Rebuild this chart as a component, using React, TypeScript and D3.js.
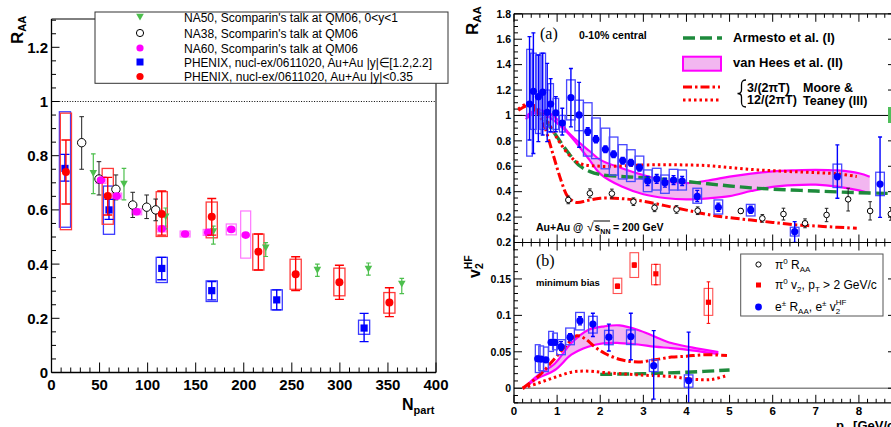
import React from "react";
import * as d3 from "d3";

// ================= LEFT PANEL: R_AA vs N_part =================
const leftXTicks = [0, 50, 100, 150, 200, 250, 300, 350, 400];
const leftYTicks = [0, 0.2, 0.4, 0.6, 0.8, 1, 1.2];
const leftYTickLabels = ["0", "0.2", "0.4", "0.6", "0.8", "1", "1.2"];

const na50N = [43.5, 75.4, 118.8, 168.4, 222.9, 276.6, 329.7, 364.4];
const na50R = [0.735, 0.696, 0.575, 0.52, 0.46, 0.378, 0.382, 0.327];
const na50Lo = [0.66, 0.637, 0.53, 0.474, 0.428, 0.355, 0.359, 0.291];
const na50Hi = [0.807, 0.753, 0.607, 0.54, 0.479, 0.4, 0.404, 0.347];

const na38N = [31.4, 49.4, 67, 84.5, 99, 108.4];
const na38R = [0.848, 0.714, 0.676, 0.618, 0.61, 0.6];
const na38Lo = [0.75, 0.655, 0.637, 0.572, 0.568, 0.56];
const na38Hi = [0.944, 0.778, 0.729, 0.665, 0.655, 0.64];

const na60N = [51.5, 67.8, 88.6, 114.7, 139, 163, 187, 202];
const na60R = [0.71, 0.651, 0.593, 0.53, 0.511, 0.517, 0.528, 0.507];
const na60SysLo = [0.698, 0.64, 0.582, 0.519, 0.5, 0.506, 0.508, 0.422];
const na60SysHi = [0.722, 0.662, 0.604, 0.541, 0.522, 0.528, 0.548, 0.596];

const fwdN = [14, 59.8, 114.7, 166.7, 234.3, 325.2];
const fwdR = [0.753, 0.6, 0.384, 0.302, 0.268, 0.164];
const fwdLo = [0.706, 0.565, 0.342, 0.268, 0.231, 0.114];
const fwdHi = [0.805, 0.639, 0.425, 0.336, 0.305, 0.218];
const fwdSysLo = [0.536, 0.51, 0.332, 0.262, 0.231, 0.141];
const fwdSysHi = [0.962, 0.688, 0.425, 0.338, 0.305, 0.193];

const midN = [15, 58.5, 114.7, 166.7, 215.2, 254, 299.5, 351.5];
const midR = [0.74, 0.651, 0.585, 0.575, 0.446, 0.363, 0.333, 0.258];
const midLo = [0.622, 0.581, 0.507, 0.507, 0.378, 0.302, 0.27, 0.206];
const midHi = [0.858, 0.72, 0.67, 0.642, 0.511, 0.427, 0.396, 0.313];
const midSysLo = [0.527, 0.547, 0.502, 0.497, 0.378, 0.307, 0.283, 0.219];
const midSysHi = [0.957, 0.753, 0.667, 0.629, 0.511, 0.418, 0.385, 0.295];

const leftLegend = [
  "NA50, Scomparin's talk at QM06, 0<y<1",
  "NA38, Scomparin's talk at QM06",
  "NA60, Scomparin's talk at QM06",
  "PHENIX, nucl-ex/0611020, Au+Au |y|\u2208[1.2,2.2]",
  "PHENIX, nucl-ex/0611020, Au+Au |y|<0.35",
];
const leftLegendWidths = [214, 174, 174, 248, 229];

// ================= RIGHT PANEL (a): R_AA vs pT =================
const rightXTicks = [0, 1, 2, 3, 4, 5, 6, 7, 8];
const aYTicks = [0.2, 0.4, 0.6, 0.8, 1, 1.2, 1.4, 1.6, 1.8];
const aYTickLabels = ["0.2", "0.4", "0.6", "0.8", "1", "1.2", "1.4", "1.6", "1.8"];
const bYTicks = [0, 0.05, 0.1, 0.15, 0.2];
const bYTickLabels = ["0", "0.05", "0.1", "0.15", "0.2"];

const eAPt = [0.36, 0.45, 0.565, 0.666, 0.77, 0.85, 0.97, 1.12, 1.32, 1.51, 1.71, 1.9, 2.12, 2.31, 2.52, 2.71, 2.91, 3.1, 3.31, 3.5, 3.7, 3.9, 4.25, 4.74, 5.49, 6.51, 7.5, 8.49];
const eAR = [1.09, 1.19, 1.148, 1.183, 1.025, 1.09, 1.02, 0.94, 1.14, 1.004, 0.873, 0.812, 0.734, 0.694, 0.644, 0.628, 0.589, 0.484, 0.5, 0.471, 0.491, 0.484, 0.363, 0.277, 0.256, 0.085, 0.518, 0.46];
const eALo = [0.807, 0.7, 0.794, 0.846, 0.794, 0.872, 0.872, 0.846, 0.91, 0.75, 0.843, 0.785, 0.708, 0.668, 0.618, 0.602, 0.562, 0.449, 0.465, 0.436, 0.456, 0.449, 0.323, 0.245, 0.23, 0.0, 0.348, 0.198];
const eAHi = [1.62, 1.65, 1.476, 1.49, 1.41, 1.29, 1.148, 1.057, 1.37, 1.26, 0.903, 0.84, 0.76, 0.72, 0.67, 0.654, 0.616, 0.519, 0.535, 0.506, 0.526, 0.519, 0.41, 0.31, 0.285, 0.164, 0.768, 0.83];
const eASysLo = [0.68, 0.89, 0.858, 0.89, 0.91, 0.87, 0.89, 0.87, 0.965, 0.88, 0.68, 0.66, 0.58, 0.53, 0.5, 0.48, 0.5, 0.4, 0.413, 0.387, 0.413, 0.413, 0.309, 0.224, 0.209, 0.051, 0.433, 0.369];
const eASysHi = [1.52, 1.49, 1.476, 1.49, 1.2, 1.25, 1.134, 1.0, 1.28, 1.12, 1.1, 0.98, 0.9, 0.83, 0.77, 0.73, 0.68, 0.571, 0.584, 0.531, 0.576, 0.571, 0.427, 0.335, 0.3, 0.12, 0.617, 0.553];

const piAPt = [1.26, 1.76, 2.27, 2.77, 3.26, 3.77, 4.26, 5.26, 5.76, 6.25, 6.75, 7.25, 7.75, 8.26, 8.74];
const piAR = [0.335, 0.387, 0.385, 0.321, 0.273, 0.26, 0.25, 0.248, 0.19, 0.224, 0.151, 0.217, 0.34, 0.248, 0.225];
const piALo = [0.305, 0.352, 0.35, 0.291, 0.243, 0.23, 0.22, 0.228, 0.16, 0.177, 0.116, 0.164, 0.248, 0.177, 0.175];
const piAHi = [0.365, 0.422, 0.42, 0.351, 0.303, 0.29, 0.28, 0.268, 0.22, 0.27, 0.186, 0.269, 0.427, 0.321, 0.275];

const armAPt = [0.45, 0.75, 1.0, 1.25, 1.5, 1.75, 2.0, 2.5, 3.0, 3.5, 4.0, 4.5, 5.0, 5.5, 6.0, 7.0, 8.0, 8.86];
const armAR = [1.07, 0.95, 0.83, 0.71, 0.61, 0.56, 0.535, 0.52, 0.51, 0.497, 0.48, 0.462, 0.445, 0.43, 0.42, 0.405, 0.392, 0.385];

const vhAPt = [0.27, 0.5, 0.75, 1.0, 1.25, 1.5, 1.75, 2.0, 2.5, 3.0, 3.5, 4.0, 4.5, 5.0, 5.5, 6.0, 6.5, 7.0, 7.5, 8.0, 8.25];
const vhAUp = [0.99, 1.04, 1.03, 0.97, 0.87, 0.79, 0.72, 0.65, 0.585, 0.53, 0.487, 0.468, 0.488, 0.518, 0.542, 0.56, 0.568, 0.572, 0.567, 0.545, 0.518];
const vhALo = [0.97, 1.02, 1.0, 0.94, 0.86, 0.76, 0.65, 0.54, 0.44, 0.38, 0.35, 0.34, 0.348, 0.365, 0.405, 0.438, 0.452, 0.455, 0.44, 0.41, 0.387];

const mt3APt = [0.1, 0.35, 0.55, 0.7, 0.9, 1.1, 1.25, 1.45, 1.7, 2.0, 2.5, 3.0, 3.5, 4.0, 4.5, 5.0, 5.5, 6.0, 6.5, 7.0, 7.5, 7.95];
const mt3AR = [1.04, 1.08, 1.02, 0.92, 0.7, 0.48, 0.36, 0.315, 0.33, 0.348, 0.345, 0.325, 0.29, 0.255, 0.22, 0.195, 0.177, 0.158, 0.14, 0.13, 0.12, 0.112];

const mt12APt = [0.1, 0.3, 0.5, 0.75, 1.0, 1.25, 1.5, 2.0, 2.5, 3.0, 3.5, 4.0, 4.5, 5.0, 5.5, 6.0, 6.5, 7.0, 7.5, 7.95];
const mt12AR = [1.05, 1.09, 1.07, 0.97, 0.82, 0.7, 0.625, 0.6, 0.603, 0.61, 0.612, 0.61, 0.605, 0.59, 0.575, 0.565, 0.557, 0.55, 0.54, 0.52];

// ================= RIGHT PANEL (b): v2 vs pT =================
const eBPt = [0.55, 0.63, 0.74, 0.86, 0.95, 1.09, 1.3, 1.53, 1.83, 2.2, 2.71, 3.24, 4.05];
const eBV = [0.0404, 0.04, 0.039, 0.063, 0.063, 0.057, 0.07, 0.0927, 0.088, 0.07, 0.071, 0.031, 0.0105];
const eBLo = [0.037, 0.037, 0.036, 0.06, 0.06, 0.052, 0.065, 0.087, 0.071, 0.051, 0.039, -0.015, -0.03];
const eBHi = [0.044, 0.043, 0.042, 0.066, 0.066, 0.064, 0.075, 0.098, 0.103, 0.088, 0.103, 0.079, 0.077];
const eBSysLo = [0.0215, 0.024, 0.0229, 0.0505, 0.0527, 0.046, 0.0597, 0.08, 0.0757, 0.0597, 0.06, 0.0229, 0.0014];
const eBSysHi = [0.0597, 0.058, 0.0565, 0.078, 0.0757, 0.0666, 0.0826, 0.104, 0.0987, 0.0794, 0.08, 0.039, 0.0183];

const piBPt = [2.4, 2.79, 3.29, 4.51];
const piBV = [0.14, 0.169, 0.157, 0.118];
const piBLo = [0.137, 0.166, 0.142, 0.089];
const piBHi = [0.143, 0.172, 0.17, 0.146];
const piBSysLo = [0.13, 0.152, 0.142, 0.1];
const piBSysHi = [0.151, 0.186, 0.17, 0.137];

const vhBPt = [0.22, 0.56, 0.95, 1.33, 1.72, 2.1, 2.45, 2.88, 3.26, 3.65, 4.12, 4.74];
const vhBUp = [0.0, 0.018, 0.034, 0.062, 0.08, 0.085, 0.0863, 0.08, 0.071, 0.062, 0.056, 0.0495];
const vhBLo = [0.0, 0.0138, 0.025, 0.046, 0.057, 0.062, 0.062, 0.06, 0.057, 0.055, 0.052, 0.047];

const mt3BPt = [0.2, 0.56, 0.95, 1.2, 1.45, 1.65, 1.85, 2.1, 2.49, 2.88, 3.26, 3.65, 4.0, 4.43, 4.94];
const mt3BV = [0.0, 0.016, 0.041, 0.058, 0.072, 0.068, 0.058, 0.048, 0.039, 0.036, 0.039, 0.0427, 0.044, 0.046, 0.045];

const mt12BPt = [0.2, 0.56, 0.95, 1.33, 1.64, 2.1, 2.88, 3.65, 4.12, 4.58, 4.93];
const mt12BV = [0.0, 0.007, 0.015, 0.022, 0.0236, 0.0215, 0.0183, 0.016, 0.0124, 0.012, 0.0174];

const armBPt = [2.0, 3.0, 4.0, 5.0];
const armBV = [0.019, 0.02, 0.022, 0.025];

// ================= styling =================
const FONT = "'Liberation Sans', Arial, Helvetica, sans-serif";
const SERIF = "'Liberation Serif', 'Times New Roman', serif";
const RED = "#ff0000";
const BLUE = "#0000ff";
const MAG = "#ff00ff";
const NA50G = "#4dbf4d";
const DKGREEN = "#1e8a3c";

export default function App() {
  const xL = d3.scaleLinear().domain([0, 400]).range([51.5, 436]);
  const yL = d3.scaleLinear().domain([0, 1.3]).range([372.5, 20.2]);
  const xR = d3.scaleLinear().domain([0, 8.86]).range([514, 896]);
  const yA = d3.scaleLinear().domain([0, 1.8]).range([242.5, 13.8]);
  const yB = d3.scaleLinear().domain([-0.02, 0.2]).range([402.8, 242.5]);

  const boxN = 5.8;

  const vbar = (key: string, x: number, y0: number, y1: number, cap: number, color: string, sw = 1.2) => (
    <g key={key} stroke={color} strokeWidth={sw}>
      <line x1={x} x2={x} y1={y0} y2={y1} />
      {cap > 0 && <line x1={x - cap} x2={x + cap} y1={y0} y2={y0} />}
      {cap > 0 && <line x1={x - cap} x2={x + cap} y1={y1} y2={y1} />}
    </g>
  );

  const box = (key: string, x0: number, x1: number, y0: number, y1: number, color: string, sw = 1.2) => (
    <rect key={key} x={Math.min(x0, x1)} y={Math.min(y0, y1)} width={Math.abs(x1 - x0)} height={Math.abs(y1 - y0)} fill="none" stroke={color} strokeWidth={sw} />
  );

  const tri = (x: number, y: number, s = 4) => `M${x - s},${y - s * 0.85} L${x + s},${y - s * 0.85} L${x},${y + s * 0.95} Z`;

  const lYMinor = d3.range(0, 1.3001, 0.05);
  const lXMinor = d3.range(0, 400.01, 10);

  const curve = d3.curveCatmullRom.alpha(0.5);
  const lineA = (pts: number[], vals: number[]) =>
    d3.line<number>().x((_, i) => xR(pts[i])).y((v) => yA(v)).curve(curve)(vals) || "";
  const lineB = (pts: number[], vals: number[]) =>
    d3.line<number>().x((_, i) => xR(pts[i])).y((v) => yB(v)).curve(curve)(vals) || "";
  const areaA = d3.area<number>().x((_, i) => xR(vhAPt[i])).y0((_, i) => yA(vhALo[i])).y1((_, i) => yA(vhAUp[i])).curve(curve)(vhAPt) || "";
  const areaB = d3.area<number>().x((_, i) => xR(vhBPt[i])).y0((_, i) => yB(vhBLo[i])).y1((_, i) => yB(vhBUp[i])).curve(curve)(vhBPt) || "";

  const rXMinor = d3.range(0, 8.861, 0.2);
  const aYMinor = d3.range(0, 1.8001, 0.05);
  const bYMinor = d3.range(-0.02, 0.2001, 0.01);

  const DOT = "2.5,3";
  const DASHDOT = "9,3,2.5,3";
  const DASH = "12,5";

  const legY = [17, 33, 48, 62, 76.5];

  return (
    <svg width={891} height={427} style={{ position: "absolute", left: 0, top: 0, background: "#fff" }} fontFamily={FONT}>
      <defs>
        <clipPath id="clipA"><rect x={514} y={13.8} width={382} height={228.7} /></clipPath>
        <clipPath id="clipB"><rect x={514} y={242.5} width={382} height={160.3} /></clipPath>
        <clipPath id="clipL"><rect x={51.5} y={19} width={384.5} height={353.5} /></clipPath>
      </defs>
      <rect x={0} y={0} width={891} height={427} fill="#fff" />

      {/* ================= LEFT PANEL ================= */}
      <g>
        <line x1={51.5} x2={51.5} y1={19} y2={372.5} stroke="#000" strokeWidth={1.3} />
        <line x1={51.5} x2={436} y1={372.5} y2={372.5} stroke="#000" strokeWidth={1.3} />
        <line x1={51.5} x2={436} y1={19} y2={19} stroke="#000" strokeWidth={1} />
        <line x1={436} x2={436} y1={19} y2={372.5} stroke="#000" strokeWidth={1} />
        {lYMinor.map((v, i) => {
          const major = Math.abs(v / 0.2 - Math.round(v / 0.2)) < 1e-6;
          return <line key={"lym" + i} x1={51.5} x2={51.5 + (major ? 8 : 4.5)} y1={yL(v)} y2={yL(v)} stroke="#000" strokeWidth={1} />;
        })}
        {lXMinor.map((v, i) => {
          const major = v % 50 === 0;
          return <line key={"lxm" + i} x1={xL(v)} x2={xL(v)} y1={372.5} y2={372.5 - (major ? 10 : 5)} stroke="#000" strokeWidth={1} />;
        })}
        {leftYTicks.map((v, i) => (
          <text key={"lyl" + i} x={48} y={yL(v)} dy="0.36em" textAnchor="end" fontSize={15} fontWeight="bold">{leftYTickLabels[i]}</text>
        ))}
        {leftXTicks.map((v, i) => (
          <text key={"lxl" + i} x={xL(v)} y={390} textAnchor="middle" fontSize={15} fontWeight="bold">{String(v)}</text>
        ))}
        <text transform="translate(23,44) rotate(-90)" fontSize={17} fontWeight="bold">
          R<tspan fontSize={11} dy={3}>AA</tspan>
        </text>
        <text x={402} y={410} fontSize={16} fontWeight="bold">
          N<tspan fontSize={11} dy={4}>part</tspan>
        </text>

        <line x1={51.5} x2={436} y1={yL(1)} y2={yL(1)} stroke="#000" strokeWidth={1} strokeDasharray="1,1.6" />

        <g clipPath="url(#clipL)">
          {na60N.map((n, i) => box("n60b" + i, xL(n - 5.2), xL(n + 5.2), yL(na60SysLo[i]), yL(na60SysHi[i]), "#ff77ff", 1.2))}
          {fwdN.map((n, i) => box("fwb" + i, xL(n - boxN), xL(n + boxN), yL(fwdSysLo[i]), yL(fwdSysHi[i]), "#3a3aff", 1.3))}
          {midN.map((n, i) => box("mdb" + i, xL(n - boxN), xL(n + boxN), yL(midSysLo[i]), yL(midSysHi[i]), "#ff3a3a", 1.3))}

          {na38N.map((n, i) => vbar("n38e" + i, xL(n), yL(na38Lo[i]), yL(na38Hi[i]), 2.3, "#222", 1))}
          {na38N.map((n, i) => (
            <circle key={"n38" + i} cx={xL(n)} cy={yL(na38R[i])} r={4.2} fill="#fff" stroke="#000" strokeWidth={1} />
          ))}
          {na50N.map((n, i) => vbar("n50e" + i, xL(n), yL(na50Lo[i]), yL(na50Hi[i]), 2.3, NA50G, 1.2))}
          {na50N.map((n, i) => <path key={"n50" + i} d={tri(xL(n), yL(na50R[i]), 3.8)} fill={NA50G} />)}
          {na60N.map((n, i) => <ellipse key={"n60" + i} cx={xL(n)} cy={yL(na60R[i])} rx={4.3} ry={3.8} fill={MAG} />)}
          {fwdN.map((n, i) => vbar("fwe" + i, xL(n), yL(fwdLo[i]), yL(fwdHi[i]), 4.5, BLUE, 1.4))}
          {fwdN.map((n, i) => (
            <rect key={"fw" + i} x={xL(n) - 3.6} y={yL(fwdR[i]) - 3.6} width={7.2} height={7.2} fill={BLUE} />
          ))}
          {midN.map((n, i) => vbar("mde" + i, xL(n), yL(midLo[i]), yL(midHi[i]), 4.5, RED, 1.4))}
          {midN.map((n, i) => <circle key={"md" + i} cx={xL(n)} cy={yL(midR[i])} r={4} fill={RED} />)}
        </g>

        <rect x={95} y={12} width={353} height={71.3} fill="#fff" stroke="#333" strokeWidth={1} />
        <path d={tri(140, legY[0], 3.8)} fill={NA50G} />
        <circle cx={140} cy={legY[1]} r={3.6} fill="#fff" stroke="#000" strokeWidth={1} />
        <circle cx={140} cy={legY[2]} r={3.6} fill={MAG} />
        <rect x={136.5} y={legY[3] - 3.5} width={7} height={7} fill={BLUE} />
        <circle cx={140} cy={legY[4]} r={3.6} fill={RED} />
        {leftLegend.map((t, i) => (
          <text key={"ll" + i} x={184} y={legY[i]} dy="0.36em" fontSize={12.5} textLength={leftLegendWidths[i]} lengthAdjust="spacingAndGlyphs">{t}</text>
        ))}
      </g>

      {/* ================= RIGHT PANEL ================= */}
      <g>
        <g clipPath="url(#clipA)">
          <line x1={514} x2={896} y1={yA(1)} y2={yA(1)} stroke="#000" strokeWidth={1} />
          <path d={areaA} fill="#f2b6f0" stroke="none" />
          <path d={lineA(vhAPt, vhAUp)} fill="none" stroke={MAG} strokeWidth={2.2} />
          <path d={lineA(vhAPt, vhALo)} fill="none" stroke={MAG} strokeWidth={2.2} />
          <path d={lineA(armAPt, armAR)} fill="none" stroke={DKGREEN} strokeWidth={3.4} strokeDasharray={DASH} />
          <path d={lineA(mt12APt, mt12AR)} fill="none" stroke={RED} strokeWidth={3} strokeDasharray={DOT} />
          <path d={lineA(mt3APt, mt3AR)} fill="none" stroke={RED} strokeWidth={3} strokeDasharray={DASHDOT} />

          {eAPt.map((p, i) => {
            const hw = p < 1.2 ? 0.065 : 0.1;
            return box("eab" + i, xR(p - hw), xR(p + hw), yA(eASysLo[i]), yA(eASysHi[i]), "#4848ff", 1.3);
          })}
          {piAPt.map((p, i) => vbar("pae" + i, xR(p), yA(piALo[i]), yA(piAHi[i]), 1.8, "#222", 1))}
          {piAPt.map((p, i) => (
            <circle key={"pa" + i} cx={xR(p)} cy={yA(piAR[i])} r={2.8} fill="#fff" stroke="#000" strokeWidth={1} />
          ))}
          {eAPt.map((p, i) => vbar("eae" + i, xR(p), yA(eALo[i]), yA(eAHi[i]), 2, BLUE, 1.4))}
          {eAPt.map((p, i) => <circle key={"ea" + i} cx={xR(p)} cy={yA(eAR[i])} r={3.6} fill={BLUE} />)}
        </g>

        <g clipPath="url(#clipB)">
          <line x1={514} x2={896} y1={yB(0)} y2={yB(0)} stroke="#888" strokeWidth={1.5} />
          <path d={areaB} fill="#f2b6f0" stroke="none" />
          <path d={lineB(vhBPt, vhBUp)} fill="none" stroke={MAG} strokeWidth={2.2} />
          <path d={lineB(vhBPt, vhBLo)} fill="none" stroke={MAG} strokeWidth={2.2} />
          <path d={lineB(armBPt, armBV)} fill="none" stroke={DKGREEN} strokeWidth={3.4} strokeDasharray={DASH} />
          <path d={lineB(mt12BPt, mt12BV)} fill="none" stroke={RED} strokeWidth={3} strokeDasharray={DOT} />
          <path d={lineB(mt3BPt, mt3BV)} fill="none" stroke={RED} strokeWidth={3} strokeDasharray={DASHDOT} />

          {eBPt.map((p, i) => {
            const hw = p < 1.0 ? 0.055 : 0.1;
            return box("ebb" + i, xR(p - hw), xR(p + hw), yB(eBSysLo[i]), yB(eBSysHi[i]), "#4848ff", 1.3);
          })}
          {piBPt.map((p, i) => box("pbb" + i, xR(p - 0.1), xR(p + 0.1), yB(piBSysLo[i]), yB(piBSysHi[i]), "#ff5050", 1.1))}
          {piBPt.map((p, i) => vbar("pbe" + i, xR(p), yB(piBLo[i]), yB(piBHi[i]), 1.8, RED, 1))}
          {piBPt.map((p, i) => (
            <rect key={"pb" + i} x={xR(p) - 2.6} y={yB(piBV[i]) - 2.6} width={5.2} height={5.2} fill={RED} />
          ))}
          {eBPt.map((p, i) => vbar("ebe" + i, xR(p), yB(eBLo[i]), yB(eBHi[i]), 2, BLUE, 1.4))}
          {eBPt.map((p, i) => <circle key={"eb" + i} cx={xR(p)} cy={yB(eBV[i])} r={3.6} fill={BLUE} />)}
        </g>

        <g stroke="#000" strokeWidth={1.2} fill="none">
          <line x1={514} x2={514} y1={13.8} y2={402.8} />
          <line x1={514} x2={896} y1={13.8} y2={13.8} />
          <line x1={514} x2={896} y1={242.5} y2={242.5} />
          <line x1={514} x2={896} y1={402.8} y2={402.8} />
          <line x1={896} x2={896} y1={13.8} y2={402.8} />
        </g>
        {rXMinor.map((v, i) => {
          const major = Math.abs(v - Math.round(v)) < 1e-6;
          const L = major ? 8 : 4;
          const x = xR(v);
          return (
            <g key={"rx" + i} stroke="#000" strokeWidth={1}>
              <line x1={x} x2={x} y1={13.8} y2={13.8 + L} />
              <line x1={x} x2={x} y1={242.5} y2={242.5 - L} />
              <line x1={x} x2={x} y1={242.5} y2={242.5 + L} />
              <line x1={x} x2={x} y1={402.8} y2={402.8 - L} />
            </g>
          );
        })}
        {aYMinor.map((v, i) => {
          const major = Math.abs(v / 0.2 - Math.round(v / 0.2)) < 1e-6;
          const L = major ? 8 : 4;
          return (
            <g key={"ay" + i} stroke="#000" strokeWidth={1}>
              <line x1={514} x2={514 + L} y1={yA(v)} y2={yA(v)} />
              <line x1={896} x2={896 - L} y1={yA(v)} y2={yA(v)} />
            </g>
          );
        })}
        {bYMinor.map((v, i) => {
          const major = Math.abs(v / 0.05 - Math.round(v / 0.05)) < 1e-6;
          const L = major ? 8 : 4;
          return (
            <g key={"by" + i} stroke="#000" strokeWidth={1}>
              <line x1={514} x2={514 + L} y1={yB(v)} y2={yB(v)} />
              <line x1={896} x2={896 - L} y1={yB(v)} y2={yB(v)} />
            </g>
          );
        })}
        {aYTicks.map((v, i) => (
          <text key={"ayl" + i} x={511} y={yA(v)} dy="0.36em" textAnchor="end" fontSize={10.5} fontWeight="bold">{aYTickLabels[i]}</text>
        ))}
        {bYTicks.map((v, i) => (
          <text key={"byl" + i} x={511} y={yB(v)} dy="0.36em" textAnchor="end" fontSize={10.5} fontWeight="bold">{bYTickLabels[i]}</text>
        ))}
        {rightXTicks.map((v, i) => (
          <text key={"rxl" + i} x={xR(v)} y={414.5} textAnchor="middle" fontSize={11.5} fontWeight="bold">{String(v)}</text>
        ))}
        <text x={836} y={430} fontSize={13} fontWeight="bold">
          p<tspan fontSize={9} dy={3}>T</tspan><tspan dy={-3}> [GeV/c]</tspan>
        </text>

        <text transform="translate(478,35) rotate(-90)" fontSize={17} fontWeight="bold">
          R<tspan fontSize={11.5} dy={3}>AA</tspan>
        </text>
        <text transform="translate(480,278) rotate(-90)" fontSize={16} fontWeight="bold">
          v<tspan fontSize={10.5} dy={3}>2</tspan><tspan fontSize={10.5} dx={-6} dy={-11}>HF</tspan>
        </text>

        <text x={540} y={39} fontSize={16} fontFamily={SERIF}>(a)</text>
        <text x={579} y={39} fontSize={10.5} fontWeight="bold">0-10% central</text>
        <text y={231} fontSize={10.5} fontWeight="bold">
          <tspan x={536}>Au+Au @</tspan>
          <tspan x={587} fontSize={12} fontWeight="normal">{"\u221A"}</tspan>
          <tspan x={594.5}>s</tspan>
          <tspan fontSize={7} dy={2.5}>NN</tspan>
          <tspan x={613} dy={-2.5}>= 200 GeV</tspan>
        </text>
        <line x1={593.5} x2={610} y1={221} y2={221} stroke="#000" strokeWidth={1} />

        <line x1={683} x2={722} y1={38} y2={38} stroke={DKGREEN} strokeWidth={3.4} strokeDasharray={DASH} />
        <text x={733} y={41.5} fontSize={13} fontWeight="bold">Armesto et al. (I)</text>
        <rect x={683} y={56.7} width={38} height={14} fill="#f2b6f0" stroke={MAG} strokeWidth={2} />
        <text x={733} y={67} fontSize={13} fontWeight="bold">van Hees et al. (II)</text>
        <line x1={683} x2={720} y1={87} y2={87} stroke={RED} strokeWidth={3} strokeDasharray={DASHDOT} />
        <line x1={683} x2={720} y1={100} y2={100} stroke={RED} strokeWidth={3} strokeDasharray={DOT} />
        <path d="M746,80 C742,80 741.5,82 741.5,85 L741.5,90 C741.5,92.5 740,93.5 737.5,93.5 C740,93.5 741.5,94.5 741.5,97 L741.5,102 C741.5,105 742,107 746,107" fill="none" stroke="#000" strokeWidth={1.3} />
        <text x={747} y={91.5} fontSize={12.5} fontWeight="bold">3/(2πT)</text>
        <text x={747} y={104} fontSize={12.5} fontWeight="bold">12/(2πT)</text>
        <text x={803} y={91.5} fontSize={12.5} fontWeight="bold">Moore &amp;</text>
        <text x={803} y={105} fontSize={12.5} fontWeight="bold">Teaney (III)</text>
        <rect x={888} y={107} width={4} height={16} fill="#4fbf5a" />

        <text x={536} y={266} fontSize={16} fontFamily={SERIF}>(b)</text>
        <text x={536} y={286} fontSize={9.5} fontWeight="bold">minimum bias</text>

        <rect x={740.7} y={254} width={142.3} height={62} fill="#fff" stroke="#555" strokeWidth={1} />
        <circle cx={758.5} cy={264.5} r={2.6} fill="#fff" stroke="#000" strokeWidth={1} />
        <rect x={756} y={282.5} width={5} height={5} fill={RED} />
        <circle cx={758.5} cy={307} r={3.4} fill={BLUE} />
        <text x={775} y={268.5} fontSize={12}>
          π<tspan fontSize={8} dy={-5}>0</tspan><tspan dy={5}> R</tspan><tspan fontSize={8} dy={3}>AA</tspan>
        </text>
        <text x={775} y={289} fontSize={12}>
          π<tspan fontSize={8} dy={-5}>0</tspan><tspan dy={5}> v</tspan><tspan fontSize={8} dy={3}>2</tspan>
          <tspan dy={-3}>, p</tspan><tspan fontSize={8} dy={3}>T</tspan><tspan dy={-3}> &gt; 2 GeV/c</tspan>
        </text>
        <text x={775} y={311} fontSize={12}>
          e<tspan fontSize={8} dy={-5}>±</tspan><tspan dy={5}> R</tspan><tspan fontSize={8} dy={3}>AA</tspan>
          <tspan dy={-3}>, e</tspan><tspan fontSize={8} dy={-5}>±</tspan><tspan dy={5}> v</tspan>
          <tspan fontSize={8} dy={3}>2</tspan><tspan fontSize={8} dx={-4.5} dy={-9}>HF</tspan>
        </text>
      </g>
    </svg>
  );
}
